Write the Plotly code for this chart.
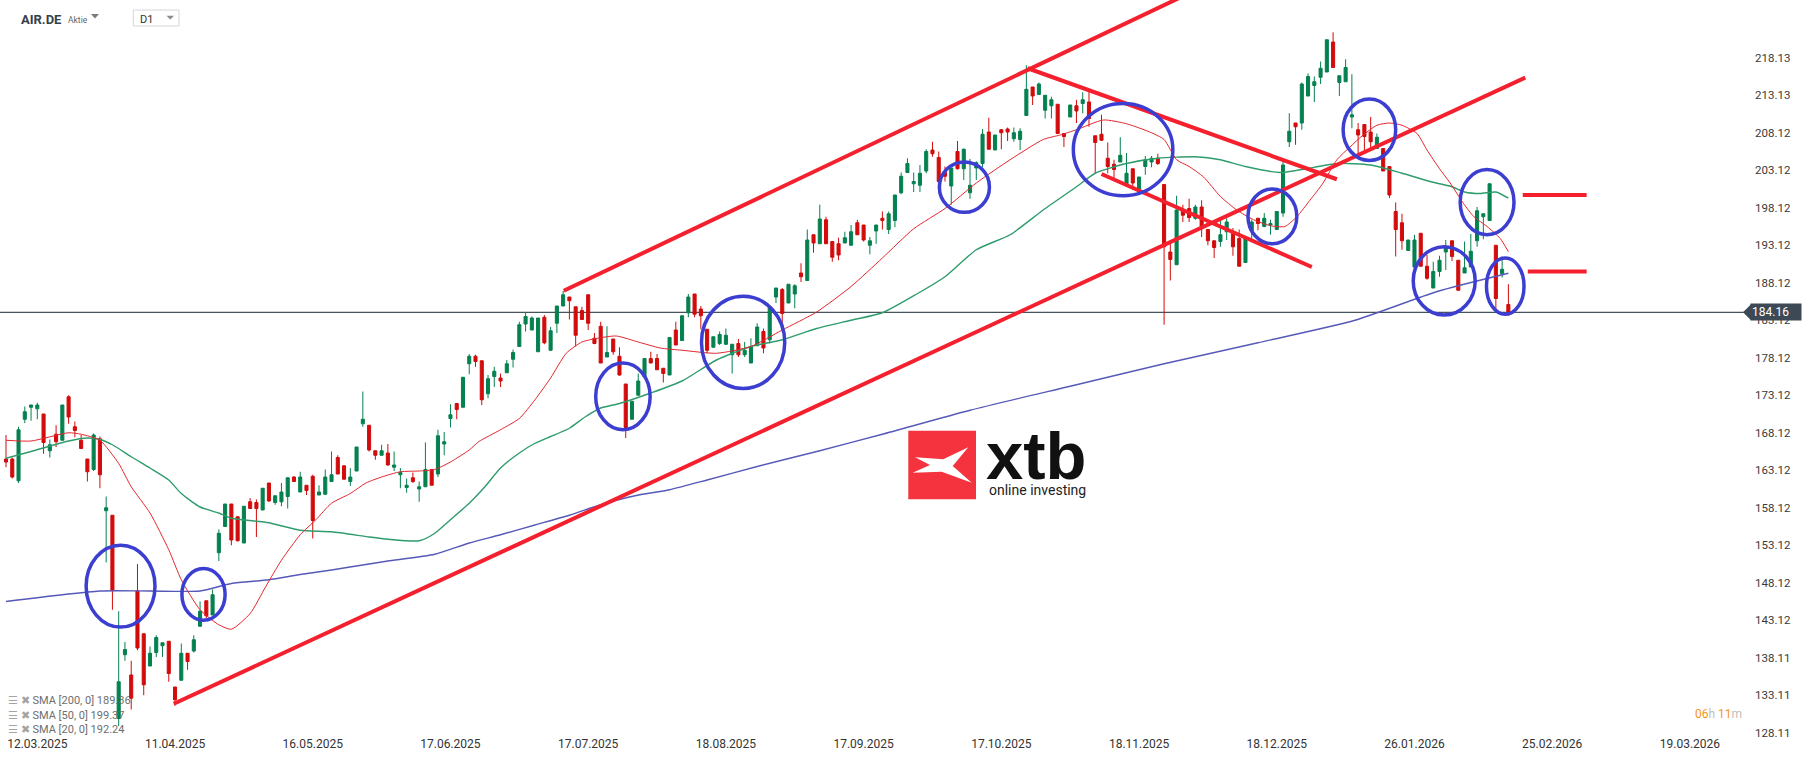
import plotly.graph_objects as go

# ---------------- data ----------------
bars = list(range(241))

opens = [164.6,164.6,161.7,169.9,171.5,171.3,170.6,165.7,167.9,167.1,
172.9,168.9,167.1,164.6,163.2,167.3,157.7,157.1,130.0,138.5,
135.8,147.0,141.3,137.0,138.8,139.7,140.3,134.2,135.1,138.7,
139.0,142.3,145.7,143.8,152.1,155.6,158.6,156.9,153.4,158.9,
158.8,157.8,161.4,158.8,158.9,159.6,162.2,160.2,161.1,162.3,
159.8,159.9,161.6,164.8,163.7,161.6,163.0,169.3,169.1,165.7,
165.1,165.4,163.5,162.5,160.8,162.1,160.6,160.9,163.2,162.6,
166.6,170.0,172.0,171.5,177.3,178.3,177.7,173.3,175.6,175.4,
176.1,177.9,179.6,182.6,181.8,178.9,183.5,179.1,182.7,185.0,
186.2,184.9,184.4,186.5,180.7,182.3,178.2,180.6,178.3,174.6,
169.9,173.1,175.6,178.0,178.0,176.7,175.8,181.8,180.4,184.1,
186.6,184.6,181.9,179.5,180.0,179.9,178.5,180.0,178.5,177.4,
179.7,181.6,180.5,186.2,187.2,185.4,186.6,189.4,188.4,194.5,
193.3,196.5,193.6,193.3,193.4,193.1,196.1,195.8,193.1,195.0,
196.7,195.2,196.4,200.1,202.8,201.3,201.1,203.0,205.8,204.8,
202.8,201.0,205.6,203.3,200.1,203.4,204.0,208.2,205.8,208.5,
208.6,207.3,207.2,210.4,214.2,213.2,211.1,211.7,211.9,208.0,
210.2,211.7,212.0,212.2,207.7,207.9,204.7,203.9,204.2,201.1,
203.3,200.6,203.6,204.2,204.7,201.2,192.2,190.5,197.8,198.0,
196.7,198.2,195.2,193.7,193.6,194.9,194.7,194.0,190.8,195.0,
196.7,195.6,195.8,195.2,197.4,206.9,209.4,209.4,213.0,214.4,
215.5,216.2,220.2,214.8,214.9,210.2,208.5,209.2,208.2,206.0,
206.0,203.6,197.6,196.1,192.4,190.2,194.7,190.3,187.4,189.6,
192.2,193.7,191.1,189.4,190.2,193.7,196.9,196.4,193.1,189.3,
185.2]

highs = [167.8,164.8,168.9,171.6,171.8,172.1,170.6,167.2,169.1,171.8,
173.1,169.6,167.8,164.6,168.0,167.6,159.6,157.1,144.3,140.2,
137.7,150.6,141.3,139.6,141.1,140.1,140.3,134.2,140.0,138.7,
141.1,145.6,145.7,147.2,155.2,158.6,158.6,156.9,158.3,159.4,
159.2,160.7,161.4,159.7,161.4,162.1,162.3,162.9,161.1,162.5,
161.1,163.2,165.6,165.1,163.7,163.4,166.2,173.6,169.1,165.7,
166.5,166.6,165.6,163.4,162.0,162.8,161.6,166.8,163.2,168.5,
168.2,171.9,172.0,175.5,178.6,178.5,177.7,175.8,176.9,176.0,
177.8,179.2,182.9,184.2,183.6,183.4,183.8,182.2,185.0,187.0,
186.2,184.9,184.9,186.5,181.4,182.9,182.3,180.6,179.5,174.6,
172.3,176.0,178.0,178.9,178.6,176.7,180.8,182.9,183.7,186.6,
186.6,185.0,181.9,180.9,181.6,182.0,179.9,180.6,180.2,180.7,
182.7,182.0,184.9,187.4,187.4,187.9,187.9,190.7,195.2,194.5,
198.5,196.9,193.6,194.1,194.9,195.8,196.5,195.8,194.2,195.8,
197.6,197.6,199.8,202.8,204.7,202.8,203.8,205.9,206.9,205.6,
203.6,203.4,207.0,206.0,204.6,204.3,208.6,210.1,207.8,208.6,
208.8,208.8,208.7,217.1,214.2,214.8,213.1,212.9,211.9,208.0,
211.8,212.5,213.5,213.8,207.7,210.5,206.8,204.5,207.5,205.4,
203.3,202.2,205.0,205.0,205.3,201.2,193.3,199.7,198.5,199.3,
198.5,199.1,195.2,193.7,196.5,196.7,195.4,195.2,194.2,196.5,
196.7,197.4,196.5,197.6,204.2,210.7,209.4,214.8,216.0,215.6,
217.6,220.5,221.5,215.7,217.9,215.9,209.4,209.2,210.2,208.0,
206.0,203.6,198.8,197.3,193.8,194.5,194.7,191.8,190.9,191.7,
193.8,193.7,191.1,193.6,194.6,198.2,197.3,201.3,193.1,191.6,
187.9]

lows = [163.5,162.0,161.4,169.4,169.7,169.9,165.3,164.8,166.2,167.1,
169.3,167.5,166.0,161.6,163.0,160.7,150.8,144.5,129.0,137.7,
131.2,139.1,133.1,137.0,138.2,138.2,134.9,131.7,135.1,136.5,
138.8,142.3,143.4,143.8,151.0,155.6,153.1,153.6,153.4,158.0,
154.2,157.8,158.9,158.5,158.3,158.0,161.6,160.2,159.8,154.0,
159.8,159.9,161.6,162.6,161.9,161.0,163.0,168.9,165.6,164.5,
165.1,163.7,163.0,160.7,160.1,161.4,158.9,160.9,161.1,162.2,
165.1,168.8,169.9,171.5,175.9,176.9,171.8,172.7,174.2,174.2,
176.1,176.8,179.6,181.6,181.8,178.9,179.9,179.0,181.4,185.0,
183.2,179.6,183.2,181.8,179.9,177.4,178.2,178.5,175.7,167.4,
169.9,173.1,175.6,177.4,176.5,174.8,175.8,179.8,180.4,183.5,
183.5,181.9,178.7,179.5,179.8,179.8,176.0,178.2,178.2,177.4,
179.7,178.7,180.0,185.4,182.6,185.4,184.7,188.2,188.4,192.1,
193.3,193.3,190.9,191.1,193.4,193.1,194.5,193.6,191.9,193.3,
195.2,194.6,195.5,199.9,202.8,200.2,200.2,202.7,204.9,201.6,
201.6,198.5,203.2,201.8,199.3,201.8,203.5,205.9,205.8,205.9,
207.0,206.9,205.8,210.4,211.8,213.2,210.0,210.0,208.0,206.2,
210.2,209.4,210.7,208.9,202.7,207.0,202.7,202.0,204.2,201.1,
200.5,200.1,202.5,203.5,203.8,182.5,188.4,190.5,196.2,196.2,
196.5,194.2,193.1,191.4,192.9,193.8,191.7,190.3,190.8,193.7,
195.1,195.5,194.5,195.2,196.9,206.2,206.5,208.5,213.0,212.2,
214.6,216.2,216.8,213.0,214.9,208.7,205.1,205.8,205.8,206.0,
203.0,199.4,191.6,192.5,192.4,190.2,190.3,188.5,187.4,188.9,
189.8,191.0,187.1,189.4,190.2,192.9,193.9,196.4,184.1,188.8,
183.7]

closes = [164.2,162.2,168.5,170.9,171.8,171.8,166.8,166.5,166.9,171.8,
170.2,168.4,166.0,162.9,167.8,162.5,158.1,147.1,134.9,139.2,
132.7,139.4,134.5,138.7,140.8,140.1,136.0,132.5,138.7,137.6,
140.5,144.3,143.7,146.5,154.7,158.6,153.8,153.7,158.3,158.0,
158.0,160.7,159.0,159.7,160.2,162.1,161.6,162.2,160.4,156.4,
160.2,162.2,162.5,162.6,161.9,162.2,166.2,169.9,165.8,165.1,
165.7,163.8,163.8,162.8,161.1,161.6,160.9,163.2,161.1,167.7,
166.9,170.5,171.2,175.5,178.3,177.6,172.5,175.3,176.3,175.0,
177.3,178.8,182.5,183.6,183.4,183.4,180.1,181.7,185.0,186.5,
185.7,181.1,183.2,182.7,180.0,177.4,178.8,178.9,175.8,168.8,
172.3,175.0,178.0,177.4,176.5,176.0,180.8,179.8,183.7,186.2,
183.9,183.7,179.1,180.9,181.2,181.1,179.9,178.5,179.1,179.6,
182.2,179.4,184.9,187.4,184.0,187.9,187.7,188.9,193.8,193.4,
196.6,193.3,191.5,191.8,194.1,194.9,194.5,193.8,193.7,195.8,
196.4,197.3,199.8,202.3,204.0,201.6,202.7,205.6,205.3,201.6,
202.3,203.4,203.3,205.9,201.1,204.1,207.9,205.9,207.8,208.1,
208.2,208.1,208.3,213.9,213.0,214.6,213.1,212.5,208.0,207.6,
211.8,211.0,212.5,210.0,206.8,207.1,203.6,203.2,205.1,202.7,
201.4,202.2,204.5,204.7,204.0,192.9,191.2,197.8,197.1,196.8,
198.2,195.6,193.7,192.8,194.5,196.2,192.9,190.3,194.0,196.2,
196.0,196.7,196.0,197.6,203.8,208.3,208.9,214.6,215.6,214.9,
216.7,220.5,216.8,215.7,216.8,210.5,207.8,207.6,206.9,207.5,
203.0,199.8,195.2,193.7,193.8,193.8,190.3,188.7,189.6,191.1,
192.7,191.6,187.1,190.1,192.3,197.7,197.3,201.3,186.0,189.9,
184.16]

# moving averages (bar position, value)
sma200_bar = [0, 15, 23, 31, 36, 42, 47, 52, 58, 61, 68.5, 74, 79, 84.5, 90, 95, 100.5, 106, 112,
              120, 130, 140, 154, 170, 185, 200, 215.5, 228.5, 240]
sma200_val = [145.6, 147.0, 147.0, 147.0, 148.0, 148.5, 149.2, 149.8, 150.6, 151.0, 151.9, 153.4, 154.5,
              155.8, 157.1, 158.5, 159.7, 160.5, 161.8, 163.6, 165.7, 167.9, 171.1, 174.3, 177.3, 180.1,
              183.1, 186.9, 189.36]

sma50_bar = [0, 4, 10, 13, 15, 17, 20, 23, 26, 28, 31, 34, 36, 42, 47, 52, 58, 61, 66, 68.5, 71, 74,
             76.5, 79, 82, 84.5, 87, 90, 92.5, 95, 98, 103, 108, 113.5, 119, 124, 129.5, 135, 140, 145.5,
             150, 155, 160.4, 165.7, 171, 174, 179, 184, 190, 194, 198, 203.5, 207, 212.6, 218, 223,
             228, 231, 233, 235.5, 238, 240]
sma50_val = [164.7, 165.6, 167.0, 167.4, 167.2, 166.5, 164.9, 163.4, 161.8, 160.0, 158.2, 157.4, 156.7,
             156.1, 155.1, 154.9, 154.2, 153.9, 153.7, 154.7, 156.5, 158.7, 160.9, 163.4, 165.4, 166.7,
             167.6, 168.7, 170.2, 171.4, 172.0, 173.4, 175.0, 177.8, 179.6, 180.5, 182.0, 183.1, 184.1,
             186.6, 188.9, 192.5, 194.5, 197.8, 200.9, 202.7, 204.0, 204.7, 204.9, 204.5, 203.6, 202.8,
             203.2, 204.0, 203.8, 202.7, 201.5, 200.9, 200.2, 200.0, 200.2, 199.37]

sma20_bar = [0, 4, 10, 12, 15, 18, 20, 23, 26, 28, 31, 34, 36, 39, 41.5, 44, 47, 49.5, 52, 55, 57.5,
             60, 63, 66, 68.5, 71, 74, 75.5, 79, 82, 84.5, 87, 89.5, 92, 94.5, 97.5, 101, 104.5, 108,
             113.5, 119, 124, 129.5, 135, 140, 145, 150, 155, 160.4, 165.7, 168.4, 171, 175.3, 179,
             182.7, 185, 187, 189, 191.3, 194, 196.6, 199.3, 202, 204.3, 206.2, 208.3, 210.4, 212.6,
             214.7, 216.8, 219, 221, 223, 225.4, 227, 229, 230.7, 232.8, 234.5, 236.6, 238.7, 240]
sma20_val = [167.1, 167.0, 168.1, 167.9, 167.1, 164.0, 160.9, 157.4, 152.5, 148.5, 144.5, 142.5, 141.9,
             144.0, 147.6, 151.1, 154.5, 156.5, 158.7, 160.0, 161.4, 162.2, 162.9, 163.0, 163.2, 164.2,
             165.8, 166.9, 168.5, 170.0, 172.5, 175.4, 178.7, 180.2, 180.7, 181.0, 180.2, 179.4, 179.1,
             178.7, 179.6, 181.8, 184.2, 187.6, 191.4, 195.3, 198.0, 201.4, 204.5, 207.2, 207.8, 208.5,
             209.8, 209.3, 208.2, 207.2, 204.5, 203.6, 202.2, 199.6, 197.8, 196.5, 195.7, 195.6, 196.9,
             199.1, 201.4, 204.5, 206.2, 207.8, 209.1, 209.4, 209.1, 208.0, 205.8, 203.3, 201.4, 198.7,
             196.9, 195.6, 194.0, 192.24]

# hand-drawn trend lines (bar position, price)
channel_low_bar, channel_low_val = [26.8, 242.7], [131.96, 215.45]
channel_up_bar, channel_up_val = [89.1, 190.0], [187.04, 227.10]
wedge_top_bar, wedge_top_val = [163.2, 212.6], [216.7, 201.9]
wedge_bot_bar, wedge_bot_val = [175.0, 208.6], [202.6, 190.2]
level_hi_bar, level_hi_val = [242.3, 252.5], [199.8, 199.8]
level_lo_bar, level_lo_val = [243.1, 252.5], [189.6, 189.6]

# hand-drawn circles (bar span, price span)
circ_x0 = [12.8, 28.1, 94.2, 111.1, 149.1, 170.5, 198.4, 213.6, 224.8, 232.3, 236.5]
circ_x1 = [23.8, 35.0, 102.9, 124.4, 157.1, 186.4, 206.2, 222.0, 234.7, 240.9, 242.5]
circ_lo = [142.2, 143.1, 168.5, 174.0, 197.5, 199.7, 193.3, 204.4, 183.8, 194.5, 183.9]
circ_hi = [153.1, 150.0, 177.4, 186.3, 204.2, 212.0, 200.6, 212.6, 192.9, 203.2, 191.4]

last_price = 184.16
sma_labels = ["SMA [200, 0] 189.36", "SMA [50, 0] 199.37", "SMA [20, 0] 192.24"]

date_labels = ["12.03.2025", "11.04.2025", "16.05.2025", "17.06.2025", "17.07.2025", "18.08.2025",
               "17.09.2025", "17.10.2025", "18.11.2025", "18.12.2025", "26.01.2026", "25.02.2026",
               "19.03.2026"]
date_bars = [5, 27, 49, 71, 93, 115, 137, 159, 181, 203, 225, 247, 269]

price_ticks = [128.11, 133.11, 138.11, 143.12, 148.12, 153.12, 158.12, 163.12, 168.12, 173.12,
               178.12, 183.12, 188.12, 193.12, 198.12, 203.12, 208.12, 213.13, 218.13]

# ---------------- styling ----------------
W, H = 1815, 761
ML, MR, MT, MB = 0, 70, 0, 26
PW, PH = W - ML - MR, H - MT - MB
GREEN = "#05804f"
RED = "#d20b0b"
TREND = "#f5202e"
CIRCLE = "#3b3ed0"
FONT = "Roboto"


def px(x):
    return (x - ML) / PW


def py(y):
    return 1 - (y - MT) / PH


fig = go.Figure()

fig.add_trace(go.Candlestick(
    x=bars, open=opens, high=highs, low=lows, close=closes,
    increasing=dict(line=dict(color=GREEN, width=1), fillcolor=GREEN),
    decreasing=dict(line=dict(color=RED, width=1), fillcolor=RED),
    whiskerwidth=0, hoverinfo="skip", showlegend=False,
))

for xs, ys, col, w in [(sma200_bar, sma200_val, "#5659b8", 1.4),
                       (sma50_bar, sma50_val, "#2f9c6c", 1.4),
                       (sma20_bar, sma20_val, "#e5262e", 1.0)]:
    fig.add_trace(go.Scatter(x=xs, y=ys, mode="lines",
                             line=dict(color=col, width=w, shape="spline", smoothing=0.6),
                             hoverinfo="skip", showlegend=False))

for xs, ys in [(channel_low_bar, channel_low_val), (channel_up_bar, channel_up_val),
               (wedge_top_bar, wedge_top_val), (wedge_bot_bar, wedge_bot_val),
               (level_hi_bar, level_hi_val), (level_lo_bar, level_lo_val)]:
    fig.add_trace(go.Scatter(x=xs, y=ys, mode="lines", line=dict(color=TREND, width=4),
                             hoverinfo="skip", showlegend=False))

shapes = []
# last price line
shapes.append(dict(type="line", xref="paper", yref="y", x0=0, x1=1, y0=last_price, y1=last_price,
                   line=dict(color="#46525c", width=1.2), layer="below"))
for a, b, lo, hi in zip(circ_x0, circ_x1, circ_lo, circ_hi):
    shapes.append(dict(type="circle", xref="x", yref="y", x0=a, x1=b, y0=lo, y1=hi,
                       line=dict(color=CIRCLE, width=3.5), layer="above"))

# xtb logo
shapes.append(dict(type="rect", xref="paper", yref="paper", x0=px(908.3), x1=px(976), y0=py(499.3),
                   y1=py(430.7), fillcolor="#f4333f", line=dict(width=0), layer="below"))
logo_pts = [(915.0, 457.3), (943.3, 459.3), (968.3, 447.3), (952.7, 466.0), (971.7, 482.7),
            (941.7, 471.7), (912.7, 472.7), (930.0, 465.0)]
path = "M " + " L ".join(f"{px(a):.5f},{py(b):.5f}" for a, b in logo_pts) + " Z"
shapes.append(dict(type="path", xref="paper", yref="paper", path=path, fillcolor="white",
                   line=dict(width=0), layer="below"))

# price badge arrow
yb = 312.3
shapes.append(dict(type="path", xref="paper", yref="paper",
                   path=f"M {px(1743):.5f},{py(yb):.5f} L {px(1751):.5f},{py(yb-8):.5f} L {px(1751):.5f},{py(yb+8):.5f} Z",
                   fillcolor="#3d4a55", line=dict(width=0)))

# header widgets
shapes.append(dict(type="path", xref="paper", yref="paper",
                   path=f"M {px(91):.5f},{py(14):.5f} L {px(99):.5f},{py(14):.5f} L {px(95):.5f},{py(18.5):.5f} Z",
                   fillcolor="#7a7a7a", line=dict(width=0)))
shapes.append(dict(type="rect", xref="paper", yref="paper", x0=px(133.3), x1=px(179), y0=py(26),
                   y1=py(10), line=dict(color="#d6d6d6", width=1), fillcolor="white"))
shapes.append(dict(type="path", xref="paper", yref="paper",
                   path=f"M {px(166.5):.5f},{py(15.8):.5f} L {px(174):.5f},{py(15.8):.5f} L {px(170.25):.5f},{py(19.5):.5f} Z",
                   fillcolor="#8a8a8a", line=dict(width=0)))

annotations = []
annotations.append(dict(xref="paper", yref="paper", x=px(19), y=py(19), xanchor="left", yanchor="middle",
                        text="<b>AIR.DE</b>", showarrow=False,
                        font=dict(family=FONT, size=13, color="#34404a")))
annotations.append(dict(xref="paper", yref="paper", x=px(66), y=py(20), xanchor="left", yanchor="middle",
                        text="Aktie", showarrow=False, font=dict(family=FONT, size=8.5, color="#666")))
annotations.append(dict(xref="paper", yref="paper", x=px(138), y=py(19), xanchor="left", yanchor="middle",
                        text="D1", showarrow=False, font=dict(family=FONT, size=11, color="#333")))

# xtb text
annotations.append(dict(xref="paper", yref="paper", x=px(984), y=py(455.5), xanchor="left", yanchor="middle",
                        text="<b>xtb</b>", showarrow=False,
                        font=dict(family="Liberation Sans", size=67, color="#111111")))
annotations.append(dict(xref="paper", yref="paper", x=px(987), y=py(490), xanchor="left", yanchor="middle",
                        text="online investing", showarrow=False,
                        font=dict(family=FONT, size=14, color="#222222")))

# SMA legend
for lab, yy in zip(sma_labels, [700.5, 715, 729.5]):
    annotations.append(dict(xref="paper", yref="paper", x=px(6), y=py(yy), xanchor="left", yanchor="middle",
                            text="<span style='color:#a3a3a3'>☰ ✖</span> " + lab, showarrow=False,
                            font=dict(family=FONT, size=11, color="#6e6e6e")))

# price badge
annotations.append(dict(xref="paper", yref="y", x=px(1750), y=last_price, xanchor="left", yanchor="middle",
                        text=f"{last_price:.2f}", showarrow=False, bgcolor="#3d4a55",
                        width=48, align="left", borderpad=1,
                        font=dict(family=FONT, size=12, color="white")))

# countdown
annotations.append(dict(xref="paper", yref="paper", x=px(1744), y=py(714), xanchor="right", yanchor="middle",
                        text="<span style='color:#f7941d'>06</span><span style='color:#bdbdbd'>h</span> "
                             "<span style='color:#f7941d'>11</span><span style='color:#bdbdbd'>m</span>",
                        showarrow=False, font=dict(family=FONT, size=12)))

fig.update_layout(
    width=W, height=H,
    margin=dict(l=ML, r=MR, t=MT, b=MB),
    paper_bgcolor="white", plot_bgcolor="white",
    showlegend=False, hovermode=False, dragmode=False,
    shapes=shapes, annotations=annotations,
    xaxis=dict(range=[-0.96, 277.8], showgrid=False, zeroline=False, showline=False,
               tickmode="array", tickvals=date_bars, ticktext=date_labels, ticks="",
               tickfont=dict(family=FONT, size=12, color="#333"),
               rangeslider=dict(visible=False), fixedrange=True),
    yaxis=dict(range=[127.80, 225.80], side="right", showgrid=False, zeroline=False, showline=False,
               tickmode="array", tickvals=price_ticks, ticktext=[f"{v:.2f}" for v in price_ticks],
               ticks="", ticklabelstandoff=9,
               tickfont=dict(family=FONT, size=11.5, color="#3a3a3a"), fixedrange=True),
)

fig.write_html("out.html", config={"displayModeBar": False},
               post_script="document.body.style.margin='0';document.body.style.overflow='hidden';")
